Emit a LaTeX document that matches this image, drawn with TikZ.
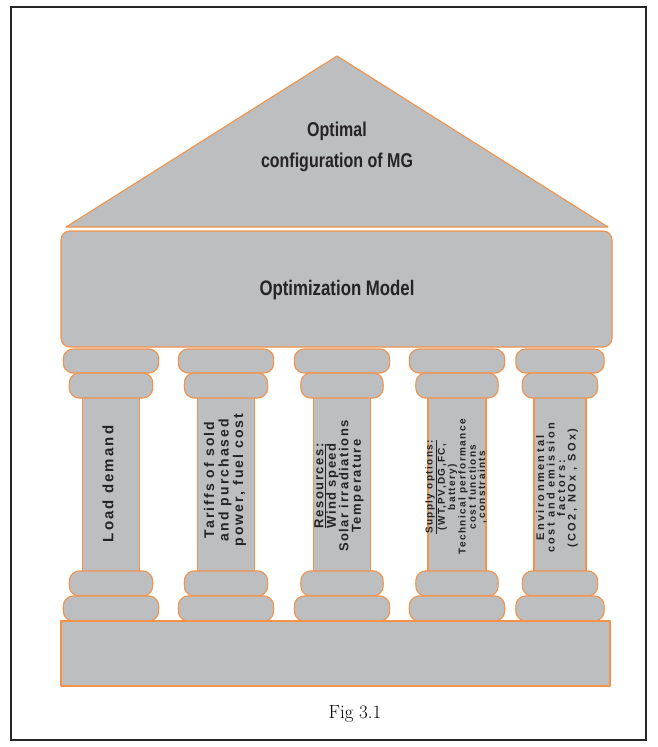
\documentclass[tikz,border=0pt]{standalone}
\usepackage{fontspec}
\newfontfamily\headfont{Liberation Sans}
\newfontfamily\pillarfont{Liberation Sans}
\definecolor{stone}{HTML}{BCBEC0}
\definecolor{rim}{HTML}{F3924A}
\definecolor{ink}{HTML}{262324}

\tikzset{
  part/.style={fill=stone, draw=rim, line width=1.1pt, line join=round},
  headText/.style={align=center, text=ink, inner sep=0pt},
  pillarText/.style={rotate=90, align=center, text=ink, inner sep=0pt},
}

% one barrel-shaped ring of a column: centre x, top y, width, height
\newcommand\colring[4]{%
  \draw[part, rounded corners=7pt]
    ({#1-#3/2+4},#2) -- ({#1+#3/2-4},#2) -- ({#1+#3/2},{#2+#4/2})
    -- ({#1+#3/2-4},{#2+#4}) -- ({#1-#3/2+4},{#2+#4}) -- ({#1-#3/2},{#2+#4/2}) -- cycle;}

% a whole column: centre x, capital width, ring width, shaft width
\newcommand\pillar[4]{%
  \draw[part] ({#1-#4/2},397) rectangle ({#1+#4/2},572);
  \colring{#1}{349}{#2}{24}
  \colring{#1}{373}{#3}{25}
  \colring{#1}{571}{#3}{25}
  \colring{#1}{596}{#2}{25}}

\newcommand\narrowline[1]{\scalebox{0.8}[1]{#1}}

\begin{document}
\begin{tikzpicture}[x=1pt,y=-1pt]
  \useasboundingbox (0,0) rectangle (657,747);
  \draw[line width=2pt, black!85] (11,7) rectangle (646,740);

  % roof
  \draw[part] (337,56) -- (608,227) -- (66,227) -- cycle;
  \node[headText, font=\headfont\bfseries\fontsize{20}{31}\selectfont] (roof) at (337,147)
    {\narrowline{Optimal}\\\narrowline{configuration of MG}};

  % entablature
  \draw[part, rounded corners=9pt] (61,231) rectangle (612,347);
  \node[headText, font=\headfont\bfseries\fontsize{21}{24}\selectfont] (model) at (337,290)
    {\narrowline{Optimization Model}};

  % columns
  \pillar{111}{98}{86}{57}
  \pillar{226}{98}{86}{57}
  \pillar{342}{98}{85}{57}
  \pillar{457}{98}{85}{58}
  \pillar{560}{91}{78}{52}

  % base
  \draw[part] (61,621) rectangle (610,686);

  % column labels
  \node[pillarText, font=\pillarfont\bfseries\addfontfeature{LetterSpace=14}\fontsize{15}{17}\selectfont]
    (load) at (108,484) {Load demand};
  \node[pillarText, font=\pillarfont\bfseries\addfontfeature{LetterSpace=15}\fontsize{14}{14.5}\selectfont]
    (tariff) at (225,480) {Tariffs of sold\\and purchased\\power, fuel cost};
  \node[pillarText, font=\pillarfont\bfseries\addfontfeature{LetterSpace=12}\fontsize{13}{12.5}\selectfont]
    (res) at (339,486) {\underline{Resources:}\\Wind speed\\Solar irradiations\\Temperature};
  \node[pillarText, font=\pillarfont\bfseries\addfontfeature{LetterSpace=14}\fontsize{10}{9.3}\selectfont]
    (supply) at (456,487) {\underline{Supply options:}\\(WT,PV,DG,FC,\\battery)\\Technical performance\\cost functions\\,constraints};
  \node[pillarText, font=\pillarfont\bfseries\addfontfeature{LetterSpace=22}\fontsize{11}{10.5}\selectfont]
    (env) at (557,488) {Environmental\\cost and emission\\factors:\\(CO2, NOx , SOx)};

  % caption
  \node[text=black, font=\fontsize{19}{22}\selectfont] (caption) at (355,714) {Fig 3.1};
\end{tikzpicture}
\end{document}
